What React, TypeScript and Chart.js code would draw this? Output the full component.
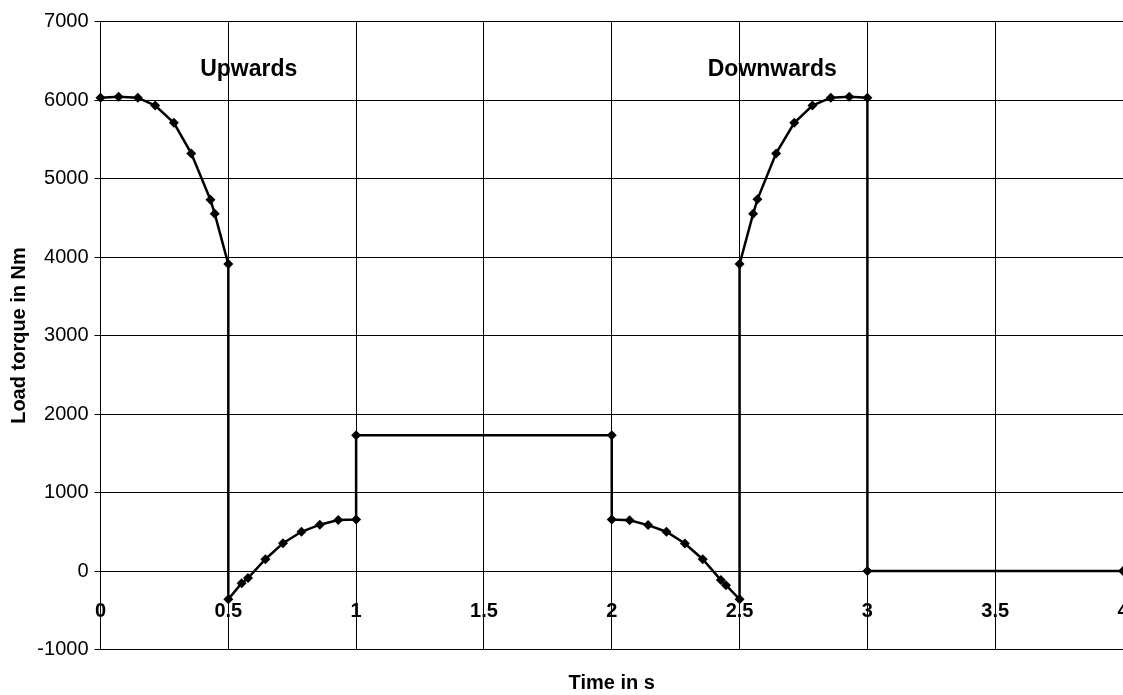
import React, { useEffect, useRef } from "react";
import { Chart, registerables } from "chart.js";

Chart.register(...registerables);

// Time (s) and load torque (Nm)
const timeValues: number[] = [
  0, 0.071, 0.146, 0.214, 0.287, 0.355, 0.43, 0.447, 0.5,
  0.5, 0.552, 0.577, 0.645, 0.714, 0.786, 0.858, 0.93, 1,
  1, 2,
  2, 2.07, 2.142, 2.214, 2.286, 2.356, 2.427, 2.447, 2.5,
  2.5, 2.553, 2.57, 2.643, 2.714, 2.785, 2.857, 2.929, 3,
  3, 4,
];
const torqueValues: number[] = [
  6030, 6040, 6030, 5930, 5710, 5320, 4730, 4550, 3910,
  -360, -155, -90, 150, 355, 500, 590, 650, 655,
  1730, 1730,
  655, 645, 585, 500, 350, 150, -115, -180, -360,
  3910, 4550, 4735, 5320, 5710, 5930, 6030, 6040, 6030,
  0, 0,
];
const xTickValues: number[] = [0, 0.5, 1, 1.5, 2, 2.5, 3, 3.5, 4];
const yMin = -1000;
const yMax = 7000;
const yStep = 1000;
const xTitle = "Time in s";
const yTitle = "Load torque in Nm";
const annotationTexts: string[] = ["Upwards", "Downwards"];
const annotationTimes: number[] = [0.58, 2.628];
const annotationTorques: number[] = [6310, 6310];

const FONT = 'Arial, "Liberation Sans", Helvetica, sans-serif';

export default function App() {
  const canvasRef = useRef<HTMLCanvasElement | null>(null);

  useEffect(() => {
    document.body.style.margin = "0";
    const canvas = canvasRef.current;
    if (!canvas) return;

    const labelsPlugin = {
      id: "customLabels",
      afterDraw(chart: any) {
        const { ctx, scales } = chart;
        const xs = scales.x;
        const ys = scales.y;
        ctx.save();
        ctx.fillStyle = "#000";
        ctx.font = `bold 20px ${FONT}`;
        ctx.textAlign = "center";
        ctx.textBaseline = "alphabetic";
        const y0 = ys.getPixelForValue(0);
        xTickValues.forEach((v) => {
          ctx.fillText(String(v), xs.getPixelForValue(v), y0 + 46);
        });
        ctx.font = `bold 23px ${FONT}`;
        annotationTexts.forEach((t, i) => {
          ctx.fillText(t, xs.getPixelForValue(annotationTimes[i]), ys.getPixelForValue(annotationTorques[i]));
        });
        ctx.restore();
      },
    };

    const chart = new Chart(canvas, {
      type: "scatter",
      data: {
        datasets: [
          {
            label: "Load torque",
            data: timeValues.map((t, i) => ({ x: t, y: torqueValues[i] })),
            showLine: true,
            borderColor: "#000",
            backgroundColor: "#000",
            borderWidth: 2.5,
            pointStyle: "rectRot",
            pointRadius: 5,
            pointBorderWidth: 0,
            pointBackgroundColor: "#000",
            tension: 0,
            clip: false as any,
          },
        ],
      },
      plugins: [labelsPlugin],
      options: {
        responsive: false,
        animation: false,
        devicePixelRatio: 1,
        layout: { autoPadding: false, padding: { top: 21.5, right: -1, left: 0, bottom: 0 } },
        plugins: {
          legend: { display: false },
          tooltip: { enabled: false },
          title: { display: false },
        },
        scales: {
          x: {
            type: "linear",
            min: 0,
            max: 4,
            ticks: { display: false, stepSize: 0.5 },
            grid: { color: "#000", lineWidth: 1, drawTicks: false },
            border: { color: "#000", width: 1 },
            title: {
              display: true,
              text: xTitle,
              color: "#000",
              font: { family: FONT, size: 20, weight: "bold" },
              padding: { top: 0, bottom: 0 },
            },
            afterFit: (scale: any) => {
              scale.height = 45.5;
            },
          },
          y: {
            type: "linear",
            min: yMin,
            max: yMax,
            ticks: {
              stepSize: yStep,
              color: "#000",
              padding: 6,
              font: { family: FONT, size: 20 },
              callback: (value: any) => String(value),
            },
            grid: { color: "#000", lineWidth: 1, drawTicks: true, tickLength: 6 },
            border: { color: "#000", width: 1 },
            title: {
              display: true,
              text: yTitle,
              color: "#000",
              font: { family: FONT, size: 20, weight: "bold" },
              padding: { top: 7, bottom: 0 },
            },
            afterFit: (scale: any) => {
              scale.width = 100.5;
            },
          },
        },
      } as any,
    });

    return () => {
      chart.destroy();
    };
  }, []);

  return (
    <div style={{ position: "fixed", left: 0, top: 0, width: 1123, height: 695, background: "#fff" }}>
      <canvas ref={canvasRef} width={1123} height={695} style={{ display: "block" }} />
    </div>
  );
}
